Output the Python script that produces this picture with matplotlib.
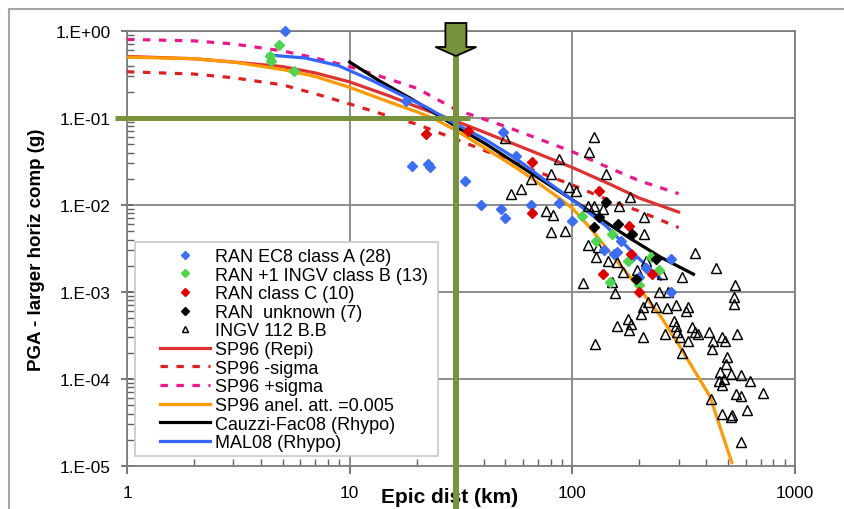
import numpy as np
import matplotlib.pyplot as plt
from matplotlib import transforms
from matplotlib.lines import Line2D
from matplotlib.patches import Polygon, Rectangle
from matplotlib.ticker import FixedLocator, LogLocator, NullFormatter

plt.rcParams['font.family'] = ['Liberation Sans', 'DejaVu Sans']

# --- recorded stations (epicentral distance km, PGA g) ---
classA_d = [5.15, 17.9, 19.0, 22.5, 23.0, 33, 39, 48, 50, 49, 56, 65, 87, 100,
            139, 154, 158, 166, 186, 200, 215, 278, 278]
classA_v = [1.0, 0.157, 0.028, 0.0295, 0.027, 0.019, 0.010, 0.009, 0.0071, 0.069,
            0.037, 0.010, 0.0105, 0.0066, 0.0030, 0.0027, 0.0029, 0.0039, 0.0025,
            0.0015, 0.0019, 0.0024, 0.001]

classB_d = [4.84, 4.4, 4.45, 5.6, 110, 128, 150, 177, 147, 200, 225, 245]
classB_v = [0.69, 0.52, 0.45, 0.35, 0.0075, 0.0039, 0.0047, 0.0023, 0.0013,
            0.0012, 0.0025, 0.0018]

classC_d = [22, 34, 66, 66, 132, 180, 184, 137, 227, 200]
classC_v = [0.065, 0.071, 0.031, 0.0081, 0.0145, 0.0057, 0.0027, 0.0016, 0.0016, 0.001]

unkn_d = [142, 132, 125, 161, 186, 238, 194]
unkn_v = [0.0108, 0.0073, 0.0056, 0.006, 0.0047, 0.0024, 0.0014]

ingv_d = [49.8, 87, 80, 65, 59, 53, 97, 104, 76, 82, 80, 93,
          125, 119, 142, 181, 117, 125, 162, 210, 210, 137,
          117, 130, 128, 144, 158, 168, 196, 214, 254, 310, 355, 440, 535,
          112, 150, 155, 245, 268,
          530, 530, 218, 208, 203, 238, 265, 293, 325, 330,
          177, 184, 159, 180, 287, 293, 296, 343, 355, 365, 410, 550, 470, 485,
          262, 303, 330, 430, 425, 207, 312, 127,
          495, 490, 460, 515, 575, 625, 455, 470, 480, 545, 575, 720, 420, 610,
          470, 520, 515, 575]
ingv_v = [0.059, 0.034, 0.023, 0.020, 0.0153, 0.0134, 0.016, 0.0145, 0.0085, 0.0077, 0.0049, 0.0050,
          0.061, 0.041, 0.023, 0.0123, 0.0098, 0.0098, 0.0098, 0.0073, 0.0047, 0.009,
          0.0035, 0.0033, 0.0025, 0.0023, 0.0022, 0.0017, 0.0018, 0.0023, 0.0016, 0.0015, 0.0028, 0.0019, 0.0012,
          0.00126, 0.0013, 0.00098, 0.001, 0.001,
          0.00087, 0.00072, 0.00077, 0.00067, 0.00056, 0.00067, 0.00066, 0.00071, 0.0006, 0.00068,
          0.00049, 0.00043, 0.00041, 0.00037, 0.00047, 0.00041, 0.00035, 0.0004, 0.00035, 0.00033, 0.00035, 0.00033, 0.0003, 0.00027,
          0.00033, 0.0003, 0.00027, 0.00027, 0.00022, 0.0003, 0.0002, 0.00025,
          0.00018, 0.00015, 0.00012, 0.000115, 0.00011, 0.000095, 0.000095, 0.000085, 0.0001, 0.000068, 0.000063, 0.000069, 0.000059, 0.000044,
          0.00004, 0.000039, 0.000037, 0.000019]

# --- attenuation relations ---
sp96_d = [1, 2, 3, 5, 7, 10, 15, 20, 30, 40, 50, 70, 100, 150, 200, 300]
sp96_v = [0.51, 0.48, 0.44, 0.39, 0.33, 0.26, 0.18, 0.135, 0.092, 0.069, 0.055,
          0.039, 0.027, 0.017, 0.012, 0.0083]

sig_d = [1, 2, 3, 5, 7, 10, 15, 20, 30, 50, 70, 100, 150, 200, 300]
sp96_lo = [0.34, 0.32, 0.29, 0.24, 0.19, 0.145, 0.105, 0.085, 0.057, 0.034, 0.024,
           0.017, 0.011, 0.0085, 0.0055]
sp96_hi = [0.80, 0.77, 0.71, 0.59, 0.49, 0.39, 0.28, 0.22, 0.125, 0.08, 0.058,
           0.041, 0.026, 0.019, 0.0135]

anel_d = [1, 2, 3, 5, 7, 10, 15, 20, 24, 30, 40, 57, 70, 85, 100, 120, 150, 200,
          250, 300, 415, 520]
anel_v = [0.50, 0.48, 0.44, 0.36, 0.30, 0.225, 0.153, 0.118, 0.098, 0.072, 0.046,
          0.026, 0.018, 0.0126, 0.0092, 0.0055, 0.0027, 0.0011, 0.00052, 0.00025,
          6.3e-5, 1.1e-5]

cauzzi_d = [10, 13.5, 19, 24.5, 30, 41, 64, 100, 180, 250, 350]
cauzzi_v = [0.44, 0.27, 0.165, 0.111, 0.08, 0.05, 0.024, 0.0115, 0.0042, 0.0025, 0.0016]

mal08_d = [4.3, 6.3, 8.9, 12.6, 16.6, 22, 30, 40, 56, 76, 100, 142, 200, 250]
mal08_v = [0.53, 0.49, 0.40, 0.27, 0.19, 0.134, 0.085, 0.058, 0.034, 0.019, 0.0115,
           0.0057, 0.0024, 0.0014]

# site of interest
site_dist = 30
site_pga = 0.1

ytick_vals = [1e-5, 1e-4, 1e-3, 1e-2, 1e-1, 1]
xtick_vals = [1, 10, 100, 1000]

FS = 12.4
GREEN = '#77933C'

fig = plt.figure(figsize=(8.45, 5.1), dpi=100)
ax = fig.add_axes([127/845, 43/510, 668/845, 435/510])
ax.set_xscale('log')
ax.set_yscale('log')
ax.set_xlim(1, 1000)
ax.set_ylim(1e-5, 1)

ax.grid(True, which='major', color='#858585', lw=1.3)
ax.set_axisbelow(True)
for s in ax.spines.values():
    s.set_color('#7F7F7F')
    s.set_linewidth(1.3)

dash = (0, (2.3, 2.7))
l1, = ax.plot(sp96_d, sp96_v, color='#E03131', lw=2.3, zorder=3)
l2, = ax.plot(sig_d, sp96_lo, color='#E02020', lw=2.3, ls=dash, zorder=3)
l3, = ax.plot(sig_d, sp96_hi, color='#F0148C', lw=2.3, ls=dash, zorder=3)
l4, = ax.plot(anel_d, anel_v, color='#FF9900', lw=2.3, zorder=3)
l5, = ax.plot(cauzzi_d, cauzzi_v, color='black', lw=2.3, zorder=3)
l6, = ax.plot(mal08_d, mal08_v, color='#3366FF', lw=2.3, zorder=3)

p5, = ax.plot(ingv_d, ingv_v, ls='none', marker='^', ms=6.5, mfc='none',
              mec='black', mew=1.05, zorder=4, clip_on=False)
p1, = ax.plot(classA_d, classA_v, ls='none', marker='D', ms=5.5, color='#3A6EF5',
              zorder=4, clip_on=False)
p2, = ax.plot(classB_d, classB_v, ls='none', marker='D', ms=5.5, color='#4CD64C',
              zorder=4, clip_on=False)
p3, = ax.plot(classC_d, classC_v, ls='none', marker='D', ms=5.5, color='#E00000',
              zorder=4, clip_on=False)
p4, = ax.plot(unkn_d, unkn_v, ls='none', marker='D', ms=5.5, color='black',
              zorder=4, clip_on=False)

# ticks
ax.xaxis.set_major_locator(FixedLocator(xtick_vals))
ax.set_xticklabels([str(v) for v in xtick_vals])
ax.yaxis.set_major_locator(FixedLocator(ytick_vals))
ax.set_yticklabels(['1.E%+03d' % int(np.log10(v)) for v in ytick_vals])
ax.xaxis.set_minor_locator(LogLocator(base=10, subs=np.arange(2, 10), numticks=20))
ax.yaxis.set_minor_locator(LogLocator(base=10, subs=np.arange(2, 10), numticks=20))
ax.xaxis.set_minor_formatter(NullFormatter())
ax.yaxis.set_minor_formatter(NullFormatter())
ax.tick_params(axis='x', which='major', direction='out', length=6, width=1.2,
               color='#606060', labelsize=FS, pad=8)
ax.tick_params(axis='x', which='minor', direction='in', length=5, width=1, color='#606060')
ax.tick_params(axis='y', which='major', direction='inout', length=8, width=1.2,
               color='#606060', labelsize=FS, pad=8)
ax.tick_params(axis='y', which='minor', direction='in', length=5, width=1, color='#606060')

ax.text(-0.136, 0.5, 'PGA - larger horiz comp (g)', transform=ax.transAxes,
        rotation=90, ha='center', va='center', fontsize=13.5, fontweight='bold')
ax.text(0.4835, -0.069, 'Epic dist (km)', transform=ax.transAxes,
        ha='center', va='center', fontsize=15, fontweight='bold')

# legend with its own white box
box = Rectangle((135/845, 1 - 457/510), (438-135)/845, (457-243)/510,
                transform=fig.transFigure, facecolor='white', edgecolor='#C8C8C8',
                lw=1.2, zorder=4.6, clip_on=False)
ax.add_patch(box)
handles = [p1, p2, p3, p4, p5, l1, l2, l3, l4, l5, l6]
labels = ['RAN EC8 class A (28)', 'RAN +1 INGV class B (13)', 'RAN class C (10)',
          'RAN  unknown (7)', 'INGV 112 B.B', 'SP96 (Repi)', 'SP96 -sigma',
          'SP96 +sigma', 'SP96 anel. att. =0.005', 'Cauzzi-Fac08 (Rhypo)',
          'MAL08 (Rhypo)']
leg = ax.legend(handles, labels, loc='upper left', bbox_to_anchor=(160/845, 1 - 249/510),
                bbox_transform=fig.transFigure, frameon=False, fontsize=13,
                borderpad=0, labelspacing=0.09, handlelength=2.75, handletextpad=0.3,
                markerscale=0.75, borderaxespad=0)
leg.set_zorder(5)

# site marker: green cross-hair lines and arrow
ax.plot([site_dist, site_dist], [-0.099, 0.9425], transform=ax.get_xaxis_transform(),
        color=GREEN, lw=4.3, clip_on=False, zorder=6, solid_capstyle='butt')
ax.plot([-0.018, 0.513], [site_pga, site_pga], transform=ax.get_yaxis_transform(),
        color=GREEN, lw=3.6, clip_on=False, zorder=6, solid_capstyle='butt')
arrow_tr = fig.dpi_scale_trans + transforms.ScaledTranslation(site_dist, 1, ax.transData)
arrow = Polygon([(-0.105, 0.08), (0.105, 0.08), (0.105, -0.16), (0.205, -0.16),
                 (0, -0.25), (-0.205, -0.16), (-0.105, -0.16)], closed=True,
                transform=arrow_tr, facecolor=GREEN, edgecolor='black', lw=1.3,
                clip_on=False, zorder=7)
ax.add_patch(arrow)

# slide frame visible at top/left
fig.add_artist(Line2D([9/845, 1], [1 - 10/510, 1 - 10/510], color='#A6A6A6', lw=1.5))
fig.add_artist(Line2D([9/845, 9/845], [0, 1 - 10/510], color='#A6A6A6', lw=1.5))

fig.savefig('out.png', dpi=100)
